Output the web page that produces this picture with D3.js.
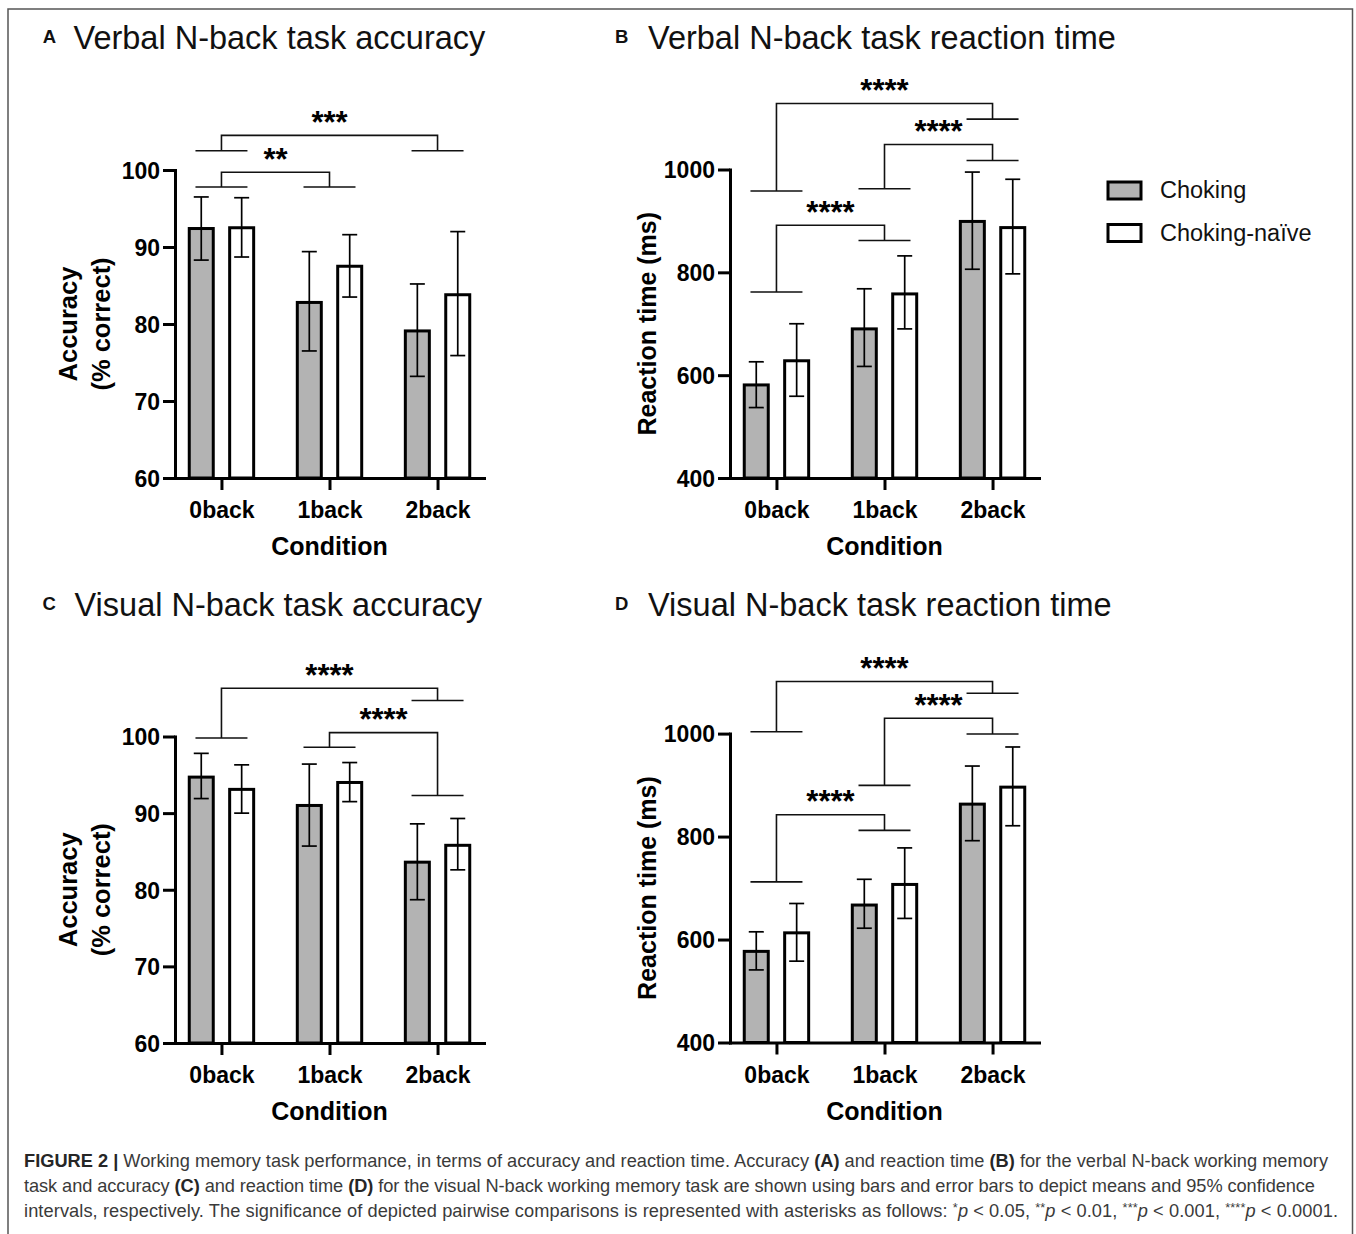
<!DOCTYPE html>
<html>
<head>
<meta charset="utf-8">
<script src="https://cdn.jsdelivr.net/npm/d3@7"></script>
<style>
  html, body { margin: 0; padding: 0; background: #fff; }
  svg { display: block; }
  text { font-family: "Liberation Sans", Arial, Helvetica, sans-serif; }
</style>
</head>
<body>
<svg id="fig" width="1356" height="1234"></svg>
<script>
// ---------------- DATA ----------------
const categories = ["0back", "1back", "2back"];
const groups = ["Choking", "Choking-naïve"];

// Panel A: Verbal N-back accuracy (%)
const verbalAccChoking    = [92.4, 82.8, 79.1];
const verbalAccChokingLo  = [88.3, 76.5, 73.2];
const verbalAccChokingHi  = [96.5, 89.4, 85.2];
const verbalAccNaive      = [92.5, 87.5, 83.8];
const verbalAccNaiveLo    = [88.7, 83.5, 75.9];
const verbalAccNaiveHi    = [96.4, 91.6, 92.0];

// Panel B: Verbal N-back reaction time (ms)
const verbalRtChoking     = [581, 690, 899];
const verbalRtChokingLo   = [537, 617, 806];
const verbalRtChokingHi   = [626, 768, 995];
const verbalRtNaive       = [628, 758, 887];
const verbalRtNaiveLo     = [559, 690, 797];
const verbalRtNaiveHi     = [700, 832, 981];

// Panel C: Visual N-back accuracy (%)
const visualAccChoking    = [94.7, 91.0, 83.6];
const visualAccChokingLo  = [91.9, 85.7, 78.7];
const visualAccChokingHi  = [97.8, 96.4, 88.6];
const visualAccNaive      = [93.1, 94.0, 85.8];
const visualAccNaiveLo    = [90.0, 91.5, 82.6];
const visualAccNaiveHi    = [96.3, 96.6, 89.3];

// Panel D: Visual N-back reaction time (ms)
const visualRtChoking     = [577, 667, 863];
const visualRtChokingLo   = [541, 622, 792];
const visualRtChokingHi   = [615, 717, 937];
const visualRtNaive       = [613, 707, 896];
const visualRtNaiveLo     = [558, 641, 821];
const visualRtNaiveHi     = [670, 778, 974];

// Tick labels
const accTicks = [60, 70, 80, 90, 100];
const rtTicks  = [400, 600, 800, 1000];

// Significance brackets (from, to, top level, left foot level, right foot level, label) in data units
const bracketsA = [
  ["0back", "1back", 99.7, 97.8, 97.8, "**"],
  ["0back", "2back", 104.5, 102.5, 102.5, "***"]
];
const bracketsB = [
  ["0back", "1back", 891.7, 761.8, 861.8, "****"],
  ["1back", "2back", 1048.6, 962.5, 1017.4, "****"],
  ["0back", "2back", 1128.5, 958.3, 1097.9, "****"]
];
const bracketsC = [
  ["0back", "2back", 106.3, 99.8, 104.7, "****"],
  ["1back", "2back", 100.5, 98.6, 92.3, "****"]
];
const bracketsD = [
  ["0back", "1back", 842.5, 712, 812, "****"],
  ["1back", "2back", 1029.8, 899.4, 999.3, "****"],
  ["0back", "2back", 1101.3, 1003.5, 1078.4, "****"]
];

// ---------------- LAYOUT ----------------
const FONT = '"Liberation Sans", Arial, Helvetica, sans-serif';
const svg = d3.select("#fig");

// figure frame
svg.append("rect")
  .attr("x", 8).attr("y", 9).attr("width", 1344.5).attr("height", 1240)
  .attr("fill", "none").attr("stroke", "#555").attr("stroke-width", 1.5);

const panels = [
  { letter: "A", title: "Verbal N-back task accuracy", x0: 175, x1: 484, yTop: 170, yBot: 478,
    domain: [60, 100], ticks: accTicks, ylabel: ["Accuracy", "(% correct)"],
    series: [[verbalAccChoking, verbalAccChokingLo, verbalAccChokingHi], [verbalAccNaive, verbalAccNaiveLo, verbalAccNaiveHi]],
    brackets: bracketsA, letterPos: [42.7, 43.3], titlePos: [73.5, 49] },
  { letter: "B", title: "Verbal N-back task reaction time", x0: 730, x1: 1039, yTop: 169.5, yBot: 478,
    domain: [400, 1000], ticks: rtTicks, ylabel: ["Reaction time (ms)"],
    series: [[verbalRtChoking, verbalRtChokingLo, verbalRtChokingHi], [verbalRtNaive, verbalRtNaiveLo, verbalRtNaiveHi]],
    brackets: bracketsB, letterPos: [615, 43.3], titlePos: [648, 49] },
  { letter: "C", title: "Visual N-back task accuracy", x0: 175, x1: 484, yTop: 736.5, yBot: 1043,
    domain: [60, 100], ticks: accTicks, ylabel: ["Accuracy", "(% correct)"],
    series: [[visualAccChoking, visualAccChokingLo, visualAccChokingHi], [visualAccNaive, visualAccNaiveLo, visualAccNaiveHi]],
    brackets: bracketsC, letterPos: [42.5, 609.5], titlePos: [74.5, 616] },
  { letter: "D", title: "Visual N-back task reaction time", x0: 730, x1: 1039, yTop: 733.6, yBot: 1042.5,
    domain: [400, 1000], ticks: rtTicks, ylabel: ["Reaction time (ms)"],
    series: [[visualRtChoking, visualRtChokingLo, visualRtChokingHi], [visualRtNaive, visualRtNaiveLo, visualRtNaiveHi]],
    brackets: bracketsD, letterPos: [615, 609.5], titlePos: [648, 616] }
];

const fills = ["#b3b3b3", "#ffffff"];

panels.forEach(p => {
  const g = svg.append("g");
  const x = d3.scalePoint().domain(categories).range([p.x0, p.x1]).padding(0.43);
  const xg = d3.scaleBand().domain(groups).range([-32.2, 32.2]).paddingInner(0.406);
  const y = d3.scaleLinear().domain(p.domain).range([p.yBot, p.yTop]);
  const bw = xg.bandwidth();

  // title
  g.append("text").attr("x", p.letterPos[0]).attr("y", p.letterPos[1])
    .attr("font-size", 18.5).attr("font-weight", "bold").attr("fill", "#111").text(p.letter);
  g.append("text").attr("x", p.titlePos[0]).attr("y", p.titlePos[1])
    .attr("font-size", 32.5).attr("fill", "#111").text(p.title);

  // bars
  groups.forEach((grp, gi) => {
    const [vals, lo, hi] = p.series[gi];
    const rows = categories.map((c, i) => ({ c, v: vals[i], lo: lo[i], hi: hi[i] }));
    g.selectAll(null).data(rows).enter().append("rect")
      .attr("x", d => x(d.c) + xg(grp))
      .attr("y", d => y(d.v))
      .attr("width", bw)
      .attr("height", d => y(p.domain[0]) - y(d.v))
      .attr("fill", fills[gi]).attr("stroke", "#000").attr("stroke-width", 3);
    // error bars
    const cx = d => x(d.c) + xg(grp) + bw / 2;
    const eb = g.selectAll(null).data(rows).enter().append("g")
      .attr("stroke", "#000").attr("stroke-width", 1.7);
    eb.append("line").attr("x1", cx).attr("x2", cx).attr("y1", d => y(d.lo)).attr("y2", d => y(d.hi));
    eb.append("line").attr("x1", d => cx(d) - 7.5).attr("x2", d => cx(d) + 7.5).attr("y1", d => y(d.lo)).attr("y2", d => y(d.lo));
    eb.append("line").attr("x1", d => cx(d) - 7.5).attr("x2", d => cx(d) + 7.5).attr("y1", d => y(d.hi)).attr("y2", d => y(d.hi));
  });

  // brackets
  const bg = g.selectAll(null).data(p.brackets).enter().append("g");
  bg.append("path")
    .attr("d", d => {
      const xl = x(d[0]), xr = x(d[1]);
      const yt = y(d[2]), yl = y(d[3]), yr = y(d[4]);
      return `M${xl},${yl}V${yt}H${xr}V${yr}M${xl - 26},${yl}H${xl + 26}M${xr - 26},${yr}H${xr + 26}`;
    })
    .attr("fill", "none").attr("stroke", "#111").attr("stroke-width", 1.6);
  bg.append("text")
    .attr("x", d => (x(d[0]) + x(d[1])) / 2)
    .attr("y", d => y(d[2]) - 2.5)
    .attr("text-anchor", "middle").attr("font-size", 31).attr("font-weight", "bold")
    .attr("fill", "#000").text(d => d[5]);

  // y axis
  const ya = g.append("g").attr("transform", `translate(${p.x0},0)`)
    .call(d3.axisLeft(y).tickValues(p.ticks).tickSize(12).tickSizeOuter(0).tickFormat(d3.format("d")));
  ya.select(".domain").attr("stroke-width", 3).attr("stroke", "#000").attr("stroke-linecap", "square");
  ya.selectAll(".tick line").attr("stroke-width", 3).attr("stroke", "#000");
  ya.selectAll(".tick text").attr("x", -15).attr("dy", "0.36em")
    .attr("font-family", FONT).attr("font-size", 23).attr("font-weight", "bold").attr("fill", "#000");

  // x axis
  const xa = g.append("g").attr("transform", `translate(0,${p.yBot})`)
    .call(d3.axisBottom(x).tickSize(12).tickSizeOuter(0));
  xa.select(".domain").attr("stroke-width", 3).attr("stroke", "#000").attr("stroke-linecap", "square");
  xa.selectAll(".tick line").attr("stroke-width", 3).attr("stroke", "#000");
  xa.selectAll(".tick text").attr("y", 40).attr("dy", 0)
    .attr("font-family", FONT).attr("font-size", 23).attr("font-weight", "bold").attr("fill", "#000");

  // axis titles
  g.append("text").attr("x", (p.x0 + p.x1) / 2).attr("y", p.yBot + 77)
    .attr("text-anchor", "middle").attr("font-size", 25).attr("font-weight", "bold").attr("fill", "#000")
    .text("Condition");
  const cy = (p.yTop + p.yBot) / 2;
  if (p.ylabel.length === 2) {
    [77, 110].forEach((bx, i) => {
      g.append("text").attr("transform", `translate(${bx},${cy}) rotate(-90)`)
        .attr("text-anchor", "middle").attr("font-size", 25.5).attr("font-weight", "bold").attr("fill", "#000")
        .text(p.ylabel[i]);
    });
  } else {
    g.append("text").attr("transform", `translate(${p.x0 - 74},${cy}) rotate(-90)`)
      .attr("text-anchor", "middle").attr("font-size", 25).attr("font-weight", "bold").attr("fill", "#000")
      .text(p.ylabel[0]);
  }
});

// legend
const leg = svg.append("g");
groups.forEach((grp, i) => {
  leg.append("rect").attr("x", 1108).attr("y", 182 + i * 42.5).attr("width", 33).attr("height", 17)
    .attr("fill", fills[i]).attr("stroke", "#000").attr("stroke-width", 3);
  leg.append("text").attr("x", 1160).attr("y", 198 + i * 42.5)
    .attr("font-size", 23.5).attr("fill", "#111").text(grp);
});

// caption
const captionLines = [
  { y: 1166.7, len: 1304, parts: [
    ["FIGURE 2", "b"], [" | ", "b"],
    ["Working memory task performance, in terms of accuracy and reaction time. Accuracy ", ""],
    ["(A)", "b"], [" and reaction time ", ""], ["(B)", "b"],
    [" for the verbal N-back working memory", ""] ] },
  { y: 1191.7, len: 1291, parts: [
    ["task and accuracy ", ""], ["(C)", "b"], [" and reaction time ", ""], ["(D)", "b"],
    [" for the visual N-back working memory task are shown using bars and error bars to depict means and 95% confidence", ""] ] },
  { y: 1216.5, len: 1314, parts: [
    ["intervals, respectively. The significance of depicted pairwise comparisons is represented with asterisks as follows: ", ""],
    ["*", "sup"], ["p", "i"], [" < 0.05, ", ""],
    ["**", "sup"], ["p", "i"], [" < 0.01, ", ""],
    ["***", "sup"], ["p", "i"], [" < 0.001, ", ""],
    ["****", "sup"], ["p", "i"], [" < 0.0001.", ""] ] }
];
const baseFs = 16;
const capTexts = captionLines.map(line => {
  const t = svg.append("text").attr("x", 24).attr("y", line.y)
    .attr("font-size", baseFs).attr("fill", "#3a3a3a");
  let shifted = false;
  line.parts.forEach(([txt, st]) => {
    const ts = t.append("tspan").text(txt);
    if (st === "b") ts.attr("font-weight", "bold").attr("fill", "#262626");
    if (st === "i") ts.attr("font-style", "italic");
    if (st === "sup") { ts.attr("dy", -5).attr("font-size", "0.7em"); shifted = true; }
    else if (shifted) { ts.attr("dy", 5); shifted = false; }
  });
  return t;
});
// scale the caption font so that lines fill their measured widths naturally
const ratios = capTexts.map((t, i) => captionLines[i].len / t.node().getComputedTextLength());
const fs = baseFs * d3.mean(ratios);
capTexts.forEach((t, i) => {
  t.attr("font-size", fs);
  t.attr("textLength", captionLines[i].len).attr("lengthAdjust", "spacing");
});
</script>
</body>
</html>
